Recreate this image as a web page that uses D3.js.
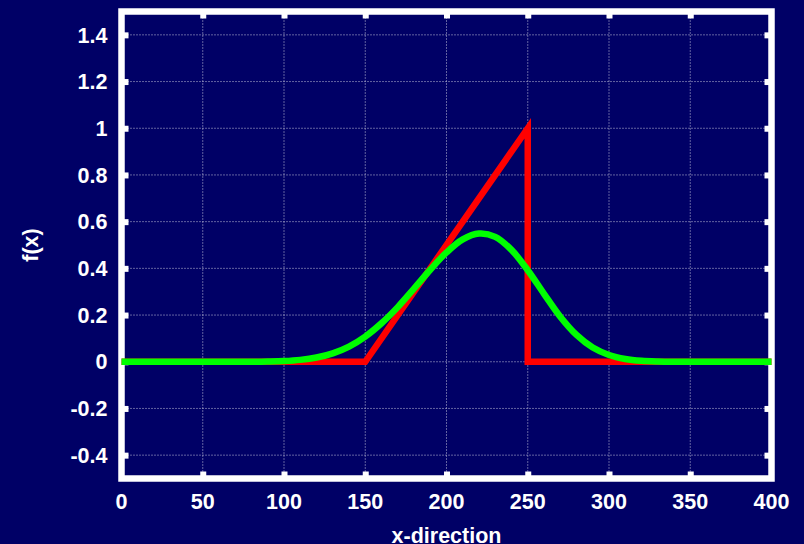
<!DOCTYPE html>
<html>
<head>
<meta charset="utf-8">
<script src="https://cdn.jsdelivr.net/npm/d3@7"></script>
<style>
  html, body { margin: 0; padding: 0; background: #000066; }
  svg { display: block; }
  text { font-family: "Liberation Sans", Arial, sans-serif; font-weight: bold; fill: #ffffff; }
</style>
</head>
<body>
<script>
// ---- data ----
const xTicks = [0, 50, 100, 150, 200, 250, 300, 350, 400];
const yTicks = [-0.4, -0.2, 0, 0.2, 0.4, 0.6, 0.8, 1, 1.2, 1.4];
const yTickLabels = ["-0.4", "-0.2", "0", "0.2", "0.4", "0.6", "0.8", "1", "1.2", "1.4"];
const xLabel = "x-direction";
const yLabel = "f(x)";

// red: triangle signal
const redX = [0, 150, 250, 250, 400];
const redY = [0, 0, 1, 0, 0];

// green: smoothed signal
const greenX = [0, 10, 20, 30, 40, 50, 60, 70, 80, 90, 100, 110, 120, 130, 140, 150, 160, 170, 180, 190,
                200, 210, 220, 230, 240, 250, 260, 270, 280, 290, 300, 310, 320, 330, 340, 350, 360, 370, 380, 390, 400];
const greenY = [0, 0, 0, 0, 0, 0, 0, 0, 0, 0.001, 0.003, 0.008, 0.018, 0.036, 0.065, 0.108, 0.165, 0.234, 0.313, 0.394,
                0.468, 0.524, 0.549, 0.535, 0.479, 0.392, 0.291, 0.193, 0.115, 0.061, 0.029, 0.012, 0.004, 0.001, 0, 0, 0, 0, 0, 0, 0];

// ---- layout ----
const W = 804, H = 544;
const x = d3.scaleLinear().domain([0, 400]).range([121.5, 771.5]);
const y = d3.scaleLinear().domain([-0.5, 1.5]).range([478.5, 11.5]);

const svg = d3.select("body").append("svg").attr("width", W).attr("height", H);
svg.append("rect").attr("width", W).attr("height", H).attr("fill", "#000066");

// grid
const grid = svg.append("g")
  .attr("stroke", "#c4c4dc").attr("stroke-width", 1).attr("stroke-dasharray", "1,2");
grid.selectAll("line.gx").data(xTicks.filter(d => d > 0 && d < 400)).join("line")
  .attr("x1", d => x(d)).attr("x2", d => x(d))
  .attr("y1", y(1.5)).attr("y2", y(-0.5));
grid.selectAll("line.gy").data(yTicks).join("line")
  .attr("x1", x(0)).attr("x2", x(400))
  .attr("y1", d => y(d)).attr("y2", d => y(d));

// frame
svg.append("rect")
  .attr("x", x(0)).attr("y", y(1.5))
  .attr("width", x(400) - x(0)).attr("height", y(-0.5) - y(1.5))
  .attr("fill", "none").attr("stroke", "#ffffff").attr("stroke-width", 6.5);

// axes with inward ticks (bottom/top/left/right)
const tickLen = 7;
function styleAxis(g) {
  g.select(".domain").remove();
  g.selectAll(".tick line").attr("stroke", "#ffffff").attr("stroke-width", 6);
  g.selectAll(".tick text").remove();
}
svg.append("g").attr("transform", `translate(0,${y(-0.5)})`)
  .call(d3.axisBottom(x).tickValues(xTicks.slice(1, -1)).tickSize(-tickLen)).call(styleAxis);
svg.append("g").attr("transform", `translate(0,${y(1.5)})`)
  .call(d3.axisTop(x).tickValues(xTicks.slice(1, -1)).tickSize(-tickLen)).call(styleAxis);
svg.append("g").attr("transform", `translate(${x(0)},0)`)
  .call(d3.axisLeft(y).tickValues(yTicks).tickSize(-tickLen)).call(styleAxis);
svg.append("g").attr("transform", `translate(${x(400)},0)`)
  .call(d3.axisRight(y).tickValues(yTicks).tickSize(-tickLen)).call(styleAxis);

// curves (drawn over the frame)
const redLine = d3.line().x(d => x(d[0])).y(d => y(d[1]));
svg.append("path")
  .datum(redX.map((v, i) => [v, redY[i]]))
  .attr("d", redLine)
  .attr("fill", "none").attr("stroke", "#ff0000").attr("stroke-width", 6.5)
  .attr("stroke-linejoin", "miter").attr("stroke-miterlimit", 10);

const greenLine = d3.line().x(d => x(d[0])).y(d => y(d[1])).curve(d3.curveCatmullRom.alpha(0.5));
svg.append("path")
  .datum(greenX.map((v, i) => [v, greenY[i]]))
  .attr("d", greenLine)
  .attr("fill", "none").attr("stroke", "#00ff00").attr("stroke-width", 6.5)
  .attr("stroke-linejoin", "round");

// tick labels
const fs = 21.5;
svg.append("g").selectAll("text").data(xTicks).join("text")
  .attr("x", d => x(d)).attr("y", y(-0.5) + 30)
  .attr("text-anchor", "middle").attr("font-size", fs)
  .text(d => String(d));
svg.append("g").selectAll("text").data(yTicks).join("text")
  .attr("x", x(0) - 14).attr("y", d => y(d)).attr("dy", "0.36em")
  .attr("text-anchor", "end").attr("font-size", fs)
  .text((d, i) => yTickLabels[i]);

// axis titles
svg.append("text")
  .attr("x", (x(0) + x(400)) / 2).attr("y", 542.5)
  .attr("text-anchor", "middle").attr("font-size", fs)
  .text(xLabel);
svg.append("text")
  .attr("transform", `translate(38.3,${(y(-0.5) + y(1.5)) / 2}) rotate(-90)`)
  .attr("text-anchor", "middle").attr("font-size", fs)
  .text(yLabel);
</script>
</body>
</html>
